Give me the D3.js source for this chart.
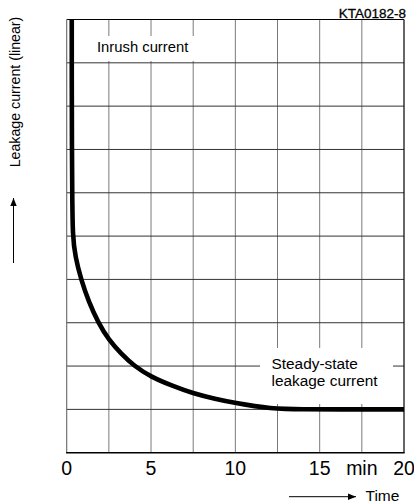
<!DOCTYPE html>
<html><head><meta charset="utf-8">
<script src="https://cdn.jsdelivr.net/npm/d3@7"></script>
<style>
html,body{margin:0;padding:0;background:#fff;}
svg{display:block;}
</style></head>
<body>
<svg id="c" width="414" height="503"></svg>
<script>
// ---- data ----
const timeMin = [0.30, 0.30, 0.31, 0.33, 0.35, 0.51, 0.85, 1.30, 1.87, 2.5, 3.22, 4.0, 5.0, 6.28, 7.47, 8.8, 10.08, 11.2, 12.05, 13.0, 13.8, 16, 20];
const leakage = [10, 8.5, 7, 6, 5, 4.52, 4.0, 3.49, 3.0, 2.60, 2.29, 2.0, 1.75, 1.54, 1.37, 1.24, 1.14, 1.07, 1.03, 1.01, 1.0, 1.0, 1.0];
const xTickValues = [0, 5, 10, 15, 20];
const xTickLabels = ["0", "5", "10", "15", "20"];
const xGrid = [2.5, 5, 7.5, 10, 12.5, 15, 17.5];
const yGrid = [1, 2, 3, 4, 5, 6, 7, 8, 9];

const svg = d3.select("#c");
const x = d3.scaleLinear().domain([0, 20]).range([66.7, 404]);
const y = d3.scaleLinear().domain([0, 10]).range([452.7, 19.5]);

const narrow = "'Liberation Sans Narrow', 'Liberation Sans', Arial, sans-serif";
const sans = "'Liberation Sans', Arial, sans-serif";

// grid
svg.append("g").selectAll("line").data(xGrid).join("line")
  .attr("x1", d => x(d)).attr("x2", d => x(d))
  .attr("y1", y(10)).attr("y2", y(0))
  .attr("stroke", "#7a7a7a").attr("stroke-width", 1);
svg.append("g").selectAll("line").data(yGrid).join("line")
  .attr("x1", x(0)).attr("x2", x(20))
  .attr("y1", d => y(d)).attr("y2", d => y(d))
  .attr("stroke", "#333").attr("stroke-width", 1);

// frame
svg.append("line").attr("x1", x(0)).attr("x2", x(20)).attr("y1", y(10)).attr("y2", y(10)).attr("stroke", "#000").attr("stroke-width", 1.2);
svg.append("line").attr("x1", x(20)).attr("x2", x(20)).attr("y1", y(10)).attr("y2", y(0)).attr("stroke", "#000").attr("stroke-width", 1.2);
svg.append("line").attr("x1", x(0)).attr("x2", x(0)).attr("y1", y(10)).attr("y2", y(0)).attr("stroke", "#666").attr("stroke-width", 1.1);
svg.append("line").attr("x1", x(0) - 0.6).attr("x2", x(20) + 0.6).attr("y1", y(0)).attr("y2", y(0)).attr("stroke", "#000").attr("stroke-width", 1.6);

// label backgrounds
svg.append("rect").attr("x", 92).attr("y", 36).attr("width", 109).attr("height", 25).attr("fill", "#fff");
svg.append("rect").attr("x", 260).attr("y", 348).attr("width", 133).attr("height", 56).attr("fill", "#fff");

// curve
const line = d3.line().x((d, i) => x(timeMin[i])).y(d => y(d)).curve(d3.curveBasis);
svg.append("path").attr("d", line(leakage)).attr("fill", "none").attr("stroke", "#000").attr("stroke-width", 4.6).attr("stroke-linejoin", "round");

// texts
svg.append("text").attr("x", 97).attr("y", 52.3).attr("font-family", sans).attr("font-size", 14.8).text("Inrush current");
const st = svg.append("text").attr("font-family", sans).attr("font-size", 15.4);
st.append("tspan").attr("x", 271.5).attr("y", 369).text("Steady-state");
st.append("tspan").attr("x", 271.5).attr("y", 385.7).text("leakage current");

svg.append("text").attr("x", 406).attr("y", 18.3).attr("text-anchor", "end").attr("font-family", narrow).attr("font-size", 13.5).attr("stroke", "#000").attr("stroke-width", 0.3).text("KTA0182-8");

// x axis tick labels
svg.append("g").selectAll("text").data(xTickValues).join("text")
  .attr("x", d => x(d)).attr("y", 475).attr("text-anchor", "middle")
  .attr("font-family", narrow).attr("font-size", 19.5)
  .text((d, i) => xTickLabels[i]);
svg.append("text").attr("x", x(17.5)).attr("y", 475).attr("text-anchor", "middle").attr("font-family", narrow).attr("font-size", 19.5).text("min");

// Time arrow
svg.append("defs").html('<marker id="ah2" viewBox="0 0 10 10" refX="10" refY="5" markerWidth="14" markerHeight="8" markerUnits="userSpaceOnUse" orient="auto"><path d="M0,1 L10,5 L0,9 Z" fill="#000"/></marker>');
svg.append("line").attr("x1", 289).attr("x2", 356).attr("y1", 496.7).attr("y2", 496.7).attr("stroke", "#000").attr("stroke-width", 1).attr("marker-end", "url(#ah2)");
svg.append("text").attr("x", 365.5).attr("y", 501).attr("font-family", sans).attr("font-size", 15.5).text("Time");

// Y label and arrow
svg.append("text").attr("transform", "translate(20,92) rotate(-90)").attr("text-anchor", "middle").attr("font-family", sans).attr("font-size", 14.2).text("Leakage current (linear)");
svg.append("line").attr("x1", 13.5).attr("x2", 13.5).attr("y1", 263).attr("y2", 198).attr("stroke", "#000").attr("stroke-width", 1).attr("marker-end", "url(#ah2)");
</script>
</body></html>
